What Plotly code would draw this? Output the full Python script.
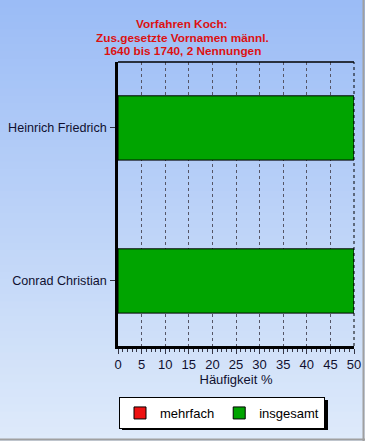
import plotly.graph_objects as go

categories = ["Heinrich Friedrich", "Conrad Christian"]
insgesamt = [50, 50]
mehrfach = [0, 0]
x_ticks = [0, 5, 10, 15, 20, 25, 30, 35, 40, 45, 50]
title_lines = ["Vorfahren Koch:", "Zus.gesetzte Vornamen männl.", "1640 bis 1740, 2 Nennungen"]

W, H = 365, 441
L, R, T, B = 118, 354, 62, 346

def xp(px):
    return (px - L) / (R - L)

def yp(py):
    return (B - py) / (B - T)

fig = go.Figure()
fig.add_trace(go.Bar(y=categories, x=mehrfach, orientation="h", name="mehrfach",
                     marker=dict(color="#ee1111", line=dict(color="black", width=1)), width=0.42))
fig.add_trace(go.Bar(y=categories, x=insgesamt, orientation="h", name="insgesamt",
                     marker=dict(color="#00a400", line=dict(color="black", width=1)), width=0.42))

shapes = []
# background gradient
top = (0x9b, 0xbc, 0xf6)
bot = (0xde, 0xea, 0xfa)
n = 60
for i in range(n):
    t = i / (n - 1)
    c = tuple(round(top[k] + (bot[k] - top[k]) * t) for k in range(3))
    y0 = H * i / n
    y1 = H * (i + 1) / n + 1
    shapes.append(dict(type="rect", xref="paper", yref="paper", x0=xp(0), x1=xp(W),
                       y0=yp(y1), y1=yp(y0), fillcolor="rgb(%d,%d,%d)" % c,
                       line=dict(width=0), layer="below"))
# outer gray border right/bottom
shapes.append(dict(type="line", xref="paper", yref="paper", x0=xp(363.5), x1=xp(363.5),
                   y0=yp(0), y1=yp(441), line=dict(color="#a0a0a0", width=2)))
shapes.append(dict(type="line", xref="paper", yref="paper", x0=xp(0), x1=xp(365),
                   y0=yp(439.5), y1=yp(439.5), line=dict(color="#a0a0a0", width=2)))
# top border of plot
shapes.append(dict(type="line", xref="paper", yref="paper", x0=0, x1=1, y0=1, y1=1,
                   line=dict(color="black", width=1.5)))
# right border of plot (dashed)
shapes.append(dict(type="line", xref="paper", yref="paper", x0=1, x1=1, y0=0, y1=1,
                   line=dict(color="black", width=1, dash="3px,3px")))
# legend shadow
shapes.append(dict(type="rect", xref="paper", yref="paper", x0=xp(122), x1=xp(328),
                   y0=yp(430), y1=yp(400), fillcolor="black", line=dict(width=0)))

annotations = []
for i, line in enumerate(title_lines):
    annotations.append(dict(text="<b>%s</b>" % line, xref="paper", yref="paper",
                            x=xp(182), y=yp(24 + 13.5 * i), showarrow=False,
                            xanchor="center", yanchor="middle",
                            font=dict(family="Liberation Sans, Arial", size=11.8, color="#dd1111")))

fig.update_layout(
    width=W, height=H,
    margin=dict(l=L, r=W - R, t=T, b=H - B, autoexpand=False),
    paper_bgcolor="rgba(0,0,0,0)",
    plot_bgcolor="rgba(0,0,0,0)",
    barmode="overlay",
    font=dict(family="Liberation Sans, Arial", size=13, color="#101030"),
    shapes=shapes,
    annotations=annotations,
    showlegend=True,
    legend=dict(orientation="h", x=xp(119), xanchor="left", y=yp(397), yanchor="top",
                bgcolor="white", bordercolor="black", borderwidth=1,
                font=dict(size=13, color="black"), itemwidth=30, traceorder="normal",
                tracegroupgap=0),
    xaxis=dict(range=[0, 50], tickvals=x_ticks, showgrid=True, gridcolor="#556",
               griddash="3px,3px", gridwidth=1, showline=True, linecolor="black", linewidth=2.5,
               ticks="outside", ticklen=5, tickcolor="#333344", zeroline=False, automargin=False,
               minor=dict(dtick=1, ticks="outside", ticklen=3, tickcolor="#333344", showgrid=False),
               title=dict(text="Häufigkeit %", standoff=2, font=dict(size=13)),
               tickfont=dict(size=13), fixedrange=True),
    yaxis=dict(range=[1.425, -0.431], showgrid=False, showline=True, linecolor="black",
               linewidth=2.5, ticks="outside", ticklen=5, tickcolor="#333344", automargin=False,
               tickfont=dict(size=12.6), ticklabelstandoff=1, fixedrange=True),
)

fig.write_html("out.html")
